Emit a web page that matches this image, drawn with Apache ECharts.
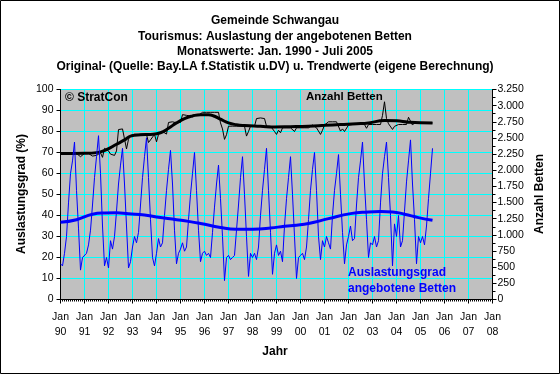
<!DOCTYPE html>
<html><head><meta charset="utf-8">
<script src="https://cdn.jsdelivr.net/npm/echarts@6/dist/echarts.min.js"></script>
<style>html,body{margin:0;padding:0;background:#fff}#c{width:560px;height:374px}</style>
</head><body><div id="c"></div>
<script>
// ---- data ----
const titleLines = [
  'Gemeinde Schwangau',
  'Tourismus: Auslastung der angebotenen Betten',
  'Monatswerte: Jan. 1990 - Juli 2005',
  'Original- (Quelle: Bay.LA f.Statistik u.DV) u. Trendwerte (eigene Berechnung)'
];
const xLabels = ['Jan\n90','Jan\n91','Jan\n92','Jan\n93','Jan\n94','Jan\n95','Jan\n96','Jan\n97','Jan\n98','Jan\n99','Jan\n00','Jan\n01','Jan\n02','Jan\n03','Jan\n04','Jan\n05','Jan\n06','Jan\n07','Jan\n08'];
const leftLabels = ['0','10','20','30','40','50','60','70','80','90','100'];
const rightLabels = ['0','250','500','750','1.000','1.250','1.500','1.750','2.000','2.250','2.500','2.750','3.000','3.250'];

// Auslastungsgrad (%) monthly, Jan 1990 .. Jul 2005
const auslastung = [
  17,16,22,30,46,60,66,75,52,34,14,20,   // 1990
  20,22,26,33,45,58,68,78,60,35,16,20,   // 1991
  15,28,24,30,42,55,64,72,55,35,15,18,   // 1992
  25,30,27,32,45,58,68,77,58,38,20,16,   // 1993
  22,29,25,27,40,52,62,71,55,33,17,22,   // 1994
  24,27,23,25,38,50,60,70,52,33,18,22,   // 1995
  23,21,22,20,32,44,55,64,48,30,9,20,    // 1996
  21,19,20,21,33,45,58,68,50,30,11,22,   // 1997
  20,22,19,25,40,52,62,72,52,32,12,22,   // 1998
  26,21,23,18,35,48,58,68,50,30,10,20,   // 1999
  21,22,19,25,38,52,62,70,52,30,19,28,   // 2000
  25,30,27,24,40,52,60,69,50,32,17,26,   // 2001
  30,35,28,29,45,58,66,75,55,38,20,27,   // 2002
  26,30,25,28,46,60,68,75,58,40,16,36,   // 2003
  30,40,25,28,42,56,66,76,55,38,17,30,   // 2004
  27,30,26,35,48,60,72                   // 2005
];
// Anzahl Betten monthly
const betten = [
  2260,2260,2260,2260,2260,2260,2260,2260,2260,2250,2210,2240, // 1990
  2260,2260,2260,2250,2220,2200,2230,2260,2270,2200,2340,2340, // 1991
  2300,2250,2280,2230,2300,2630,2640,2640,2630,2330,2480,2540, // 1992
  2560,2560,2555,2555,2555,2560,2560,2555,2430,2470,2440,2555, // 1993
  2440,2555,2560,2600,2630,2560,2740,2760,2750,2740,2733,2740, // 1994
  2740,2861,2861,2850,2850,2840,2850,2860,2850,2850,2860,2897, // 1995
  2897,2897,2897,2897,2897,2897,2897,2897,2733,2640,2478,2550, // 1996
  2682,2682,2682,2682,2682,2682,2682,2682,2682,2529,2600,2682, // 1997
  2682,2682,2800,2810,2810,2810,2800,2682,2682,2682,2682,2600, // 1998
  2555,2620,2580,2657,2657,2657,2630,2657,2657,2600,2657,2657, // 1999
  2657,2657,2657,2657,2657,2657,2700,2700,2657,2657,2555,2620, // 2000
  2700,2700,2750,2750,2750,2750,2750,2750,2606,2640,2600,2620, // 2001
  2700,2708,2708,2708,2708,2708,2708,2708,2708,2650,2708,2708, // 2002
  2708,2708,2708,2708,2708,2850,3060,2800,2720,2690,2632,2680, // 2003
  2708,2708,2708,2708,2708,2708,2820,2820,2700,2733,2733,2733, // 2004
  2733,2733,2733,2733,2733,2733,2733                           // 2005
];
// Trend values (month offset from Jan 1990, value)
const trendAusMonths = [0,8,16,22,28,34,42,48,58,64,70,80,88,96,105,112,118,124,134,145,154,160,166,172,179,186];
const trendAusValues = [36.8,38,40.6,41.2,41.3,40.8,40.2,39.3,38,37.2,36.2,34.3,33.5,33.5,34,34.9,35.4,36.2,38.5,40.9,41.7,41.9,41.7,40.6,39,37.7];
const trendBetMonths = [0,12,18,23,28,32,35,40,45,50,54,58,62,66,70,74,77,80,84,88,92,100,107,115,124,132,140,148,154,162,168,174,180,186];
const trendBetValues = [2258,2262,2273,2320,2402,2470,2529,2550,2555,2580,2650,2733,2800,2840,2861,2860,2836,2790,2733,2705,2692,2680,2670,2675,2683,2695,2708,2720,2733,2770,2765,2745,2735,2733];

// ---- chart ----
const FONT = 'Liberation Sans, Arial, sans-serif';
const pair = (xs, ys) => ys.map((v, i) => [xs[i], v]);
const monthly = arr => arr.map((v, i) => [i, v]);

const chart = echarts.init(document.getElementById('c'), null, {renderer: 'canvas'});
const graphics = titleLines.map((t, i) => ({
  type: 'text', x: 275, y: 21 + i * 15.3,
  style: {text: t, textAlign: 'center', textVerticalAlign: 'middle', font: 'bold 12px ' + FONT, fill: '#000'}
}));
graphics.push(
  {type:'rect', shape:{x:0.5,y:0.5,width:559,height:373}, style:{fill:'none', stroke:'#000', lineWidth:1}, z:100},
  {type:'text', x:22, y:194, rotation:Math.PI/2, style:{text:'Auslastungsgrad (%)', textAlign:'center', textVerticalAlign:'middle', font:'bold 12px '+FONT, fill:'#000'}},
  {type:'text', x:540, y:194, rotation:Math.PI/2, style:{text:'Anzahl Betten', textAlign:'center', textVerticalAlign:'middle', font:'bold 12px '+FONT, fill:'#000'}},
  {type:'text', x:275, y:352, style:{text:'Jahr', textAlign:'center', textVerticalAlign:'middle', font:'bold 12px '+FONT, fill:'#000'}},
  {type:'text', x:65, y:98, z:50, style:{text:'© StratCon', textVerticalAlign:'middle', font:'bold 12px '+FONT, fill:'#000'}},
  {type:'text', x:306, y:97, z:50, style:{text:'Anzahl Betten', textVerticalAlign:'middle', font:'bold 11.5px '+FONT, fill:'#000'}},
  {type:'text', x:348, y:273, z:50, style:{text:'Auslastungsgrad', textVerticalAlign:'middle', font:'bold 12px '+FONT, fill:'#0000FF'}},
  {type:'text', x:348, y:289, z:50, style:{text:'angebotene Betten', textVerticalAlign:'middle', font:'bold 12px '+FONT, fill:'#0000FF'}}
);

chart.setOption({
  animation: false,
  backgroundColor: '#fff',
  textStyle: {fontFamily: FONT},
  grid: {left: 60.5, width: 432, top: 89.5, height: 210, show: true, backgroundColor: '#C0C0C0', borderColor: '#808080', borderWidth: 1},
  xAxis: {
    type: 'value', min: 0, max: 216, interval: 12,
    axisLine: {show: true, lineStyle: {color: '#000', width: 1}},
    axisTick: {show: true, length: 4, lineStyle: {color: '#000'}},
    minorTick: {show: true, splitNumber: 12, length: 2, lineStyle: {color: '#000'}},
    splitLine: {show: true, lineStyle: {color: '#00FFFF', width: 1}},
    axisLabel: {formatter: v => xLabels[Math.round(v / 12)], color: '#000', fontSize: 10.5, lineHeight: 15, margin: 10, showMinLabel: true, showMaxLabel: true}
  },
  yAxis: [
    {
      type: 'value', min: 0, max: 100, interval: 10, position: 'left',
      axisLine: {show: true, lineStyle: {color: '#000'}},
      axisTick: {show: true, length: 4, lineStyle: {color: '#000'}},
      splitLine: {show: true, lineStyle: {color: '#00FFFF', width: 1}},
      axisLabel: {formatter: v => leftLabels[Math.round(v / 10)], color: '#000', fontSize: 10.5, margin: 7}
    },
    {
      type: 'value', min: 0, max: 3250, interval: 250, position: 'right',
      axisLine: {show: true, lineStyle: {color: '#000'}},
      axisTick: {show: true, length: 4, lineStyle: {color: '#000'}},
      minorTick: {show: true, splitNumber: 2, length: 3, lineStyle: {color: '#000'}},
      splitLine: {show: false},
      axisLabel: {formatter: v => rightLabels[Math.round(v / 250)], color: '#000', fontSize: 10.5, margin: 5}
    }
  ],
  series: [
    {type: 'line', yAxisIndex: 1, data: monthly(betten), showSymbol: false, lineStyle: {color: '#000', width: 1}, z: 2},
    {type: 'line', yAxisIndex: 1, data: pair(trendBetMonths, trendBetValues), smooth: 0.5, showSymbol: false, lineStyle: {color: '#000', width: 3}, z: 3},
    {type: 'line', yAxisIndex: 0, data: monthly(auslastung), showSymbol: false, lineStyle: {color: '#0000FF', width: 1}, z: 4},
    {type: 'line', yAxisIndex: 0, data: pair(trendAusMonths, trendAusValues), smooth: 0.5, showSymbol: false, lineStyle: {color: '#0000FF', width: 3}, z: 5}
  ],
  graphic: graphics
});
</script></body></html>
